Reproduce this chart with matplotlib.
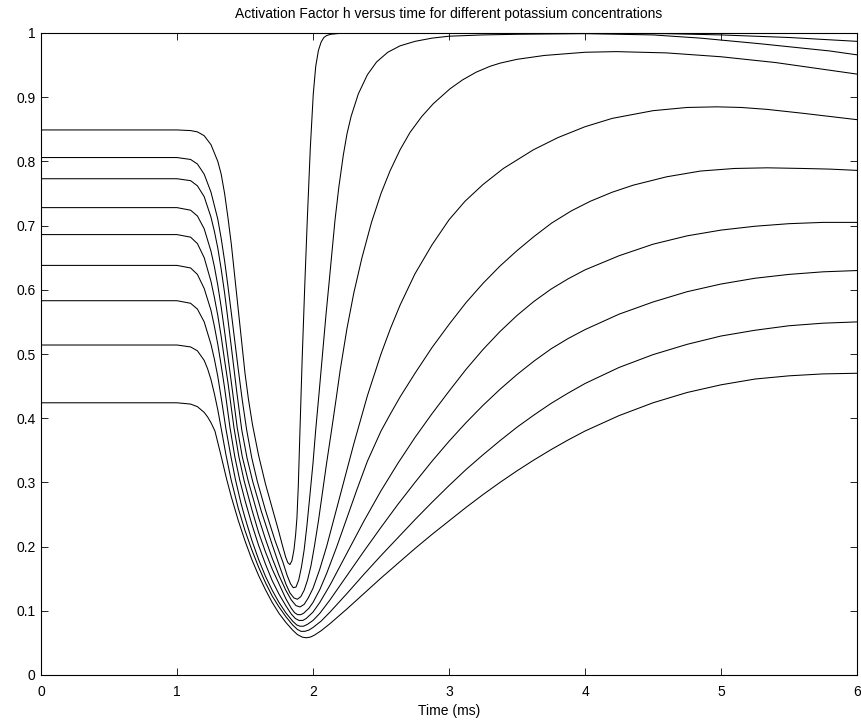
import matplotlib
matplotlib.use("Agg")
import matplotlib.pyplot as plt

# h(t), one curve per potassium concentration (top to bottom)
t1 = [0, 1.0, 1.1, 1.15, 1.2, 1.25, 1.3, 1.325, 1.35, 1.375, 1.4, 1.425, 1.45, 1.475, 1.5,
      1.525, 1.555, 1.6, 1.65, 1.7, 1.745, 1.78, 1.8, 1.815, 1.83, 1.845, 1.86, 1.872, 1.882,
      1.892, 1.904, 1.92, 1.94, 1.958, 1.98, 2.002, 2.02, 2.04, 2.06, 2.08, 2.1, 2.13, 2.2,
      3.0, 4.0, 4.6, 5.0, 5.5, 6.0]
h1 = [0.849, 0.849, 0.848, 0.846, 0.84, 0.826, 0.80, 0.78, 0.75, 0.712, 0.67, 0.62, 0.57,
      0.52, 0.47, 0.43, 0.39, 0.342, 0.298, 0.26, 0.226, 0.198, 0.183, 0.175, 0.172, 0.178,
      0.195, 0.218, 0.245, 0.295, 0.38, 0.49, 0.61, 0.709, 0.82, 0.905, 0.948, 0.973, 0.986,
      0.993, 0.996, 0.998, 0.9995, 0.9995, 0.9995, 0.999, 0.997, 0.993, 0.987]

t2 = [0, 1.0, 1.1, 1.15, 1.2, 1.25, 1.3, 1.325, 1.35, 1.375, 1.4, 1.425, 1.45, 1.48, 1.512,
      1.55, 1.59, 1.65, 1.72, 1.78, 1.81, 1.835, 1.855, 1.875, 1.895, 1.915, 1.935, 1.955,
      1.975, 2.0, 2.02, 2.045, 2.07, 2.095, 2.12, 2.162, 2.19, 2.223, 2.25, 2.28, 2.333, 2.4,
      2.468, 2.55, 2.64, 2.75, 2.875, 3.0, 3.25, 3.5, 4.0, 4.5, 4.85, 5.3, 5.8, 6.0]
h2 = [0.806, 0.806, 0.803, 0.796, 0.78, 0.752, 0.71, 0.68, 0.645, 0.605, 0.563, 0.52, 0.477,
      0.428, 0.382, 0.338, 0.302, 0.257, 0.21, 0.175, 0.155, 0.142, 0.136, 0.137, 0.148, 0.168,
      0.195, 0.232, 0.275, 0.33, 0.382, 0.44, 0.50, 0.56, 0.615, 0.709, 0.76, 0.81, 0.843,
      0.87, 0.905, 0.935, 0.955, 0.97, 0.98, 0.987, 0.992, 0.995, 0.997, 0.998, 0.999, 0.997,
      0.992, 0.983, 0.972, 0.966]

t3 = [0, 1.0, 1.1, 1.15, 1.2, 1.25, 1.275, 1.3, 1.325, 1.35, 1.375, 1.4, 1.44, 1.476, 1.515,
      1.556, 1.62, 1.7, 1.75, 1.8, 1.83, 1.86, 1.885, 1.91, 1.935, 1.96, 1.985, 2.01, 2.04,
      2.07, 2.1, 2.137, 2.17, 2.2, 2.25, 2.3, 2.36, 2.43, 2.5, 2.566, 2.64, 2.713, 2.8, 2.885,
      3.007, 3.1, 3.2, 3.3, 3.375, 3.5, 3.7, 4.0, 4.23, 4.6, 5.0, 5.4, 5.8, 6.0]
h3 = [0.773, 0.773, 0.770, 0.762, 0.745, 0.713, 0.691, 0.665, 0.632, 0.595, 0.553, 0.51, 0.44,
      0.382, 0.338, 0.302, 0.255, 0.203, 0.172, 0.142, 0.128, 0.12, 0.118, 0.122, 0.132, 0.148,
      0.17, 0.2, 0.24, 0.285, 0.33, 0.382, 0.43, 0.475, 0.54, 0.595, 0.65, 0.705, 0.75, 0.785,
      0.818, 0.845, 0.87, 0.89, 0.913, 0.927, 0.939, 0.948, 0.953, 0.959, 0.965, 0.970, 0.971,
      0.969, 0.963, 0.954, 0.942, 0.936]

t4 = [0, 1.0, 1.1, 1.15, 1.2, 1.25, 1.275, 1.3, 1.325, 1.35, 1.375, 1.4, 1.443, 1.48, 1.524,
      1.6, 1.65, 1.7, 1.75, 1.8, 1.84, 1.875, 1.905, 1.935, 1.965, 2.0, 2.05, 2.1, 2.2, 2.3,
      2.4, 2.5, 2.57, 2.64, 2.75, 2.875, 3.0, 3.118, 3.25, 3.4, 3.62, 3.8, 4.0, 4.2, 4.5, 4.75,
      4.97, 5.15, 5.34, 5.6, 5.8, 6.0]
h4 = [0.728, 0.728, 0.724, 0.715, 0.695, 0.66, 0.636, 0.607, 0.573, 0.535, 0.495, 0.455, 0.385,
      0.34, 0.302, 0.245, 0.212, 0.182, 0.155, 0.132, 0.117, 0.108, 0.106, 0.11, 0.12, 0.135,
      0.165, 0.2, 0.28, 0.36, 0.435, 0.50, 0.54, 0.576, 0.625, 0.67, 0.709, 0.738, 0.764,
      0.789, 0.818, 0.837, 0.854, 0.867, 0.879, 0.884, 0.885, 0.884, 0.881, 0.875, 0.870, 0.865]

t5 = [0, 1.0, 1.1, 1.15, 1.2, 1.25, 1.275, 1.3, 1.325, 1.35, 1.375, 1.4, 1.419, 1.455, 1.493,
      1.55, 1.6, 1.65, 1.7, 1.75, 1.8, 1.84, 1.865, 1.887, 1.91, 1.93, 1.97, 2.0, 2.05, 2.1,
      2.175, 2.25, 2.325, 2.4, 2.5, 2.57, 2.64, 2.75, 2.875, 3.0, 3.125, 3.25, 3.375, 3.5,
      3.625, 3.755, 3.9, 4.04, 4.2, 4.355, 4.6, 4.85, 5.1, 5.34, 5.6, 5.8, 6.0]
h5 = [0.686, 0.686, 0.682, 0.672, 0.65, 0.613, 0.588, 0.56, 0.527, 0.49, 0.455, 0.415, 0.385,
      0.34, 0.303, 0.258, 0.222, 0.192, 0.165, 0.142, 0.119, 0.104, 0.097, 0.094, 0.094, 0.096,
      0.104, 0.113, 0.133, 0.158, 0.2, 0.245, 0.29, 0.333, 0.38, 0.407, 0.433, 0.47, 0.51,
      0.546, 0.58, 0.61, 0.637, 0.661, 0.683, 0.704, 0.723, 0.738, 0.752, 0.763, 0.776, 0.785,
      0.789, 0.790, 0.789, 0.788, 0.786]

t6 = [0, 1.0, 1.1, 1.15, 1.2, 1.25, 1.275, 1.3, 1.325, 1.35, 1.39, 1.425, 1.461, 1.5, 1.55,
      1.6, 1.65, 1.7, 1.75, 1.8, 1.84, 1.87, 1.897, 1.925, 1.95, 2.0, 2.05, 2.125, 2.25, 2.375,
      2.5, 2.625, 2.75, 2.875, 3.0, 3.125, 3.25, 3.375, 3.5, 3.625, 3.75, 3.875, 4.0, 4.25,
      4.5, 4.75, 5.0, 5.25, 5.5, 5.75, 6.0]
h6 = [0.638, 0.638, 0.634, 0.624, 0.602, 0.568, 0.543, 0.515, 0.482, 0.447, 0.385, 0.34, 0.304,
      0.272, 0.235, 0.202, 0.173, 0.147, 0.126, 0.108, 0.095, 0.088, 0.085, 0.085, 0.088, 0.098,
      0.113, 0.14, 0.19, 0.24, 0.287, 0.33, 0.37, 0.407, 0.442, 0.476, 0.507, 0.535, 0.56,
      0.582, 0.601, 0.617, 0.631, 0.653, 0.671, 0.684, 0.693, 0.699, 0.703, 0.705, 0.705]

t7 = [0, 1.0, 1.1, 1.15, 1.2, 1.25, 1.275, 1.3, 1.33, 1.36, 1.395, 1.429, 1.47, 1.5, 1.55, 1.6,
      1.65, 1.7, 1.75, 1.8, 1.85, 1.88, 1.904, 1.93, 1.96, 2.0, 2.05, 2.125, 2.25, 2.375, 2.5,
      2.625, 2.75, 2.875, 3.0, 3.125, 3.25, 3.375, 3.5, 3.625, 3.75, 3.875, 4.0, 4.25, 4.5,
      4.75, 5.0, 5.25, 5.5, 5.75, 6.0]
h7 = [0.583, 0.583, 0.579, 0.57, 0.55, 0.515, 0.492, 0.465, 0.425, 0.383, 0.342, 0.305, 0.268,
      0.245, 0.21, 0.18, 0.154, 0.132, 0.113, 0.097, 0.084, 0.078, 0.076, 0.076, 0.079, 0.085,
      0.096, 0.117, 0.155, 0.193, 0.23, 0.266, 0.30, 0.333, 0.364, 0.393, 0.42, 0.445, 0.468,
      0.489, 0.508, 0.524, 0.538, 0.562, 0.581, 0.597, 0.609, 0.618, 0.624, 0.628, 0.630]

t8 = [0, 1.0, 1.1, 1.15, 1.2, 1.225, 1.25, 1.275, 1.3, 1.324, 1.36, 1.397, 1.45, 1.5, 1.55, 1.6,
      1.65, 1.7, 1.75, 1.8, 1.85, 1.885, 1.912, 1.94, 1.97, 2.0, 2.06, 2.125, 2.25, 2.375, 2.5,
      2.625, 2.75, 2.875, 3.0, 3.125, 3.25, 3.375, 3.5, 3.625, 3.75, 3.875, 4.0, 4.25, 4.5,
      4.75, 5.0, 5.25, 5.5, 5.75, 6.0]
h8 = [0.514, 0.514, 0.511, 0.505, 0.49, 0.477, 0.46, 0.438, 0.413, 0.385, 0.343, 0.305, 0.26,
      0.225, 0.195, 0.168, 0.144, 0.123, 0.106, 0.091, 0.078, 0.071, 0.068, 0.068, 0.07, 0.074,
      0.084, 0.098, 0.127, 0.157, 0.186, 0.214, 0.242, 0.269, 0.295, 0.32, 0.343, 0.365, 0.386,
      0.405, 0.423, 0.439, 0.454, 0.479, 0.499, 0.515, 0.528, 0.537, 0.544, 0.548, 0.550]

t9 = [0, 1.0, 1.1, 1.15, 1.2, 1.225, 1.25, 1.279, 1.32, 1.365, 1.4, 1.45, 1.5, 1.55, 1.6, 1.65,
      1.7, 1.75, 1.8, 1.85, 1.885, 1.921, 1.95, 1.98, 2.01, 2.06, 2.125, 2.25, 2.375, 2.5,
      2.625, 2.75, 2.875, 3.0, 3.125, 3.25, 3.375, 3.5, 3.625, 3.75, 3.875, 4.0, 4.25, 4.5,
      4.75, 5.0, 5.25, 5.5, 5.75, 6.0]
h9 = [0.424, 0.424, 0.422, 0.418, 0.409, 0.402, 0.393, 0.38, 0.345, 0.305, 0.277, 0.241, 0.209,
      0.18, 0.155, 0.133, 0.113, 0.096, 0.082, 0.07, 0.063, 0.059, 0.058, 0.059, 0.062, 0.069,
      0.08, 0.103, 0.127, 0.151, 0.174, 0.197, 0.219, 0.24, 0.261, 0.281, 0.30, 0.318, 0.335,
      0.351, 0.366, 0.38, 0.404, 0.424, 0.44, 0.452, 0.461, 0.466, 0.469, 0.470]

times = [t1, t2, t3, t4, t5, t6, t7, t8, t9]
gates = [h1, h2, h3, h4, h5, h6, h7, h8, h9]

xticks = [0, 1, 2, 3, 4, 5, 6]
yticks = [0, 0.1, 0.2, 0.3, 0.4, 0.5, 0.6, 0.7, 0.8, 0.9, 1]
ytick_labels = ['0', '0.1', '0.2', '0.3', '0.4', '0.5', '0.6', '0.7', '0.8', '0.9', '1']

plt.rcParams['font.family'] = ['Liberation Sans', 'DejaVu Sans']
plt.rcParams['font.size'] = 10

fig = plt.figure(figsize=(8.61, 7.25), dpi=100)
ax = fig.add_axes([41 / 861, 50 / 725, 816 / 861, 642 / 725])

for t, h in zip(times, gates):
    ax.plot(t, h, color='black', lw=0.75)

ax.set_xlim(0, 6)
ax.set_ylim(0, 1)
ax.set_xticks(xticks)
ax.set_xticklabels([str(v) for v in xticks])
ax.set_yticks(yticks)
ax.set_yticklabels(ytick_labels)
ax.tick_params(direction='in', length=5, width=0.6, top=True, right=True, labelsize=10)
ax.tick_params(axis='x', pad=7)
ax.tick_params(axis='y', pad=4)
for s in ax.spines.values():
    s.set_linewidth(0.8)

ax.set_title('Activation Factor h versus time for different potassium concentrations',
             fontsize=10, pad=11)
ax.set_xlabel('Time (ms)', fontsize=10, labelpad=4)

fig.savefig('out.png', dpi=100)
